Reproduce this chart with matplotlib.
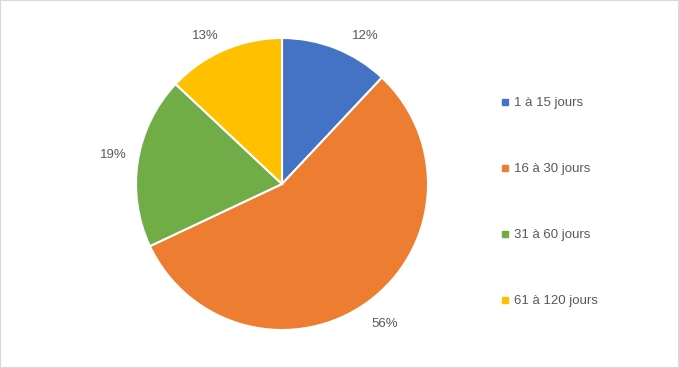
import matplotlib.pyplot as plt
from matplotlib.lines import Line2D
from matplotlib.patches import Rectangle
from matplotlib.transforms import offset_copy

plt.rcParams['font.family'] = ['Liberation Sans', 'DejaVu Sans']

# data
labels = ['1 à 15 jours', '16 à 30 jours', '31 à 60 jours', '61 à 120 jours']
values = [12, 56, 19, 13]
colors = ['#4472C4', '#ED7D31', '#70AD47', '#FFC000']
text_color = '#595959'

fig = plt.figure(figsize=(6.79, 3.68), dpi=100)
fig.patches.append(Rectangle((0, 0), 1, 1, transform=fig.transFigure,
                             fill=False, edgecolor='#D9D9D9', linewidth=1.5))

ax = fig.add_axes([136 / 679, 38 / 368, 292 / 679, 292 / 368])
wedges, texts, autotexts = ax.pie(values, colors=colors, startangle=90, counterclock=False,
                                  autopct='%1.0f%%', pctdistance=1.17,
                                  wedgeprops=dict(edgecolor='white', linewidth=1.5),
                                  textprops=dict(color=text_color, fontsize=9.5))
ax.set_xlim(-1, 1)
ax.set_ylim(-1, 1)
ax.set_aspect('equal')

# nudge labels the way Excel places them (offsets in points)
nudges = [(15, -8), (2, -1), (0, 1.5), (-6, -6.5)]
for t, (dx, dy) in zip(autotexts, nudges):
    t.set_transform(offset_copy(ax.transData, fig=fig, x=dx, y=dy, units='points'))

# legend
handles = [Line2D([], [], marker='s', linestyle='none', markersize=5,
                  markerfacecolor=c, markeredgecolor=c) for c in colors]
leg = fig.legend(handles, labels, loc='upper left', bbox_to_anchor=(501 / 679, 1 - 97 / 368),
                 frameon=False, fontsize=9.5, labelspacing=4.08, handlelength=0.6,
                 handletextpad=0.4, borderpad=0, borderaxespad=0)
for t in leg.get_texts():
    t.set_color(text_color)

fig.savefig('out.png', dpi=100)
